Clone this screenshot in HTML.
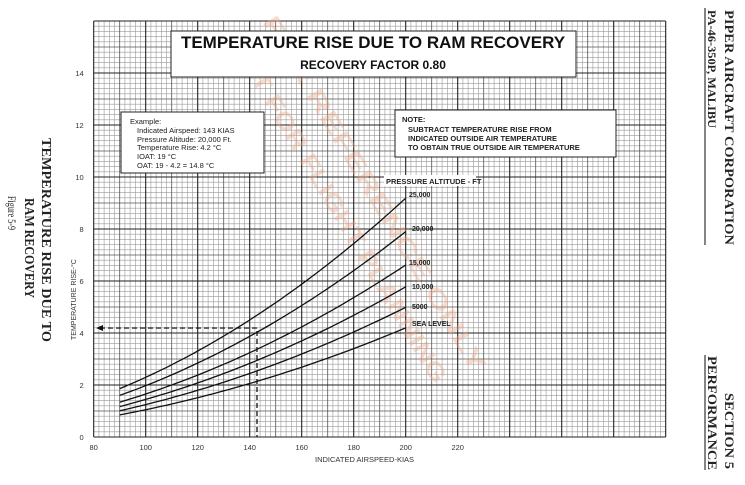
<!DOCTYPE html>
<html><head><meta charset="utf-8"><style>
html,body{margin:0;padding:0;background:#fff;width:745px;height:485px;overflow:hidden}
svg{display:block;font-family:"Liberation Sans",sans-serif}
.sr{font-family:"Liberation Serif",serif;font-weight:bold}
</style></head><body>
<svg id="s" width="745" height="485" viewBox="0 0 745 485">
<g id="grid"></g>
<g fill="#eca888" opacity="0.4" font-size="24" font-weight="bold">
<text transform="translate(262,22) rotate(59)" textLength="410" lengthAdjust="spacingAndGlyphs">FOR REFERENCE ONLY</text>
<text transform="translate(228,42) rotate(59)" textLength="400" lengthAdjust="spacingAndGlyphs">NOT FOR FLIGHT PLANNING</text>
</g>
<g id="curves" fill="none" stroke="#111" stroke-width="1.3"></g>
<g stroke="#111" stroke-width="1.3" stroke-dasharray="5,3" fill="none">
<path d="M100,328 H257 V437"/>
</g>
<path d="M96,328 l7,-3 v6z" fill="#111"/>
<g fill="#fff" stroke="#222" stroke-width="1">
<rect x="171" y="31" width="405" height="46"/>
<rect x="121" y="112" width="143" height="61"/>
<rect x="395" y="110" width="221" height="47"/>
<rect x="384" y="175" width="92" height="11" stroke="none"/>
</g>
<text x="373" y="48" font-size="17" font-weight="bold" text-anchor="middle" fill="#111">TEMPERATURE RISE DUE TO RAM RECOVERY</text>
<text x="373" y="69" font-size="12" font-weight="bold" text-anchor="middle" fill="#111">RECOVERY FACTOR 0.80</text>
<g font-size="7.5" fill="#222">
<text x="130" y="124">Example:</text>
<text x="137" y="133">Indicated Airspeed: 143 KIAS</text>
<text x="137" y="142">Pressure Altitude: 20,000 Ft.</text>
<text x="137" y="150">Temperature Rise: 4.2 °C</text>
<text x="137" y="159">IOAT: 19 °C</text>
<text x="137" y="168">OAT: 19 - 4.2 = 14.8 °C</text>
</g>
<g font-size="7.5" fill="#222" font-weight="bold">
<text x="402" y="122">NOTE:</text>
<text x="408" y="132">SUBTRACT TEMPERATURE RISE FROM</text>
<text x="408" y="141">INDICATED OUTSIDE AIR TEMPERATURE</text>
<text x="408" y="150">TO OBTAIN TRUE OUTSIDE AIR TEMPERATURE</text>
<text x="386" y="184">PRESSURE ALTITUDE - FT</text>
</g>
<g font-size="7" fill="#222" font-weight="bold" id="lbl">
<text x="409" y="197">25,000</text>
<text x="412" y="231">20,000</text>
<text x="409" y="265">15,000</text>
<text x="412" y="289">10,000</text>
<text x="412" y="309">5000</text>
<text x="412" y="326">SEA LEVEL</text>
</g>
<g font-size="7.5" fill="#333" id="ticks"></g>
<text x="315" y="462" font-size="7.5" fill="#333">INDICATED AIRSPEED-KIAS</text>
<text transform="translate(76,340) rotate(-90)" font-size="7" fill="#333">TEMPERATURE RISE-°C</text>
<g class="sr" fill="#222">
<text transform="translate(42,138) rotate(90)" font-size="14" textLength="204" lengthAdjust="spacingAndGlyphs">TEMPERATURE RISE DUE TO</text>
<text transform="translate(25,198) rotate(90)" font-size="14" textLength="100" lengthAdjust="spacingAndGlyphs">RAM RECOVERY</text>
<text transform="translate(8,196) rotate(90)" font-size="12" font-weight="normal" textLength="34" lengthAdjust="spacingAndGlyphs">Figure 5-9</text>
<text transform="translate(725,10) rotate(90)" font-size="13" textLength="235" lengthAdjust="spacingAndGlyphs">PIPER AIRCRAFT CORPORATION</text>
<text transform="translate(708,10) rotate(90)" font-size="12" textLength="118" lengthAdjust="spacingAndGlyphs">PA-46-350P, MALIBU</text>
<text transform="translate(725,393) rotate(90)" font-size="13" textLength="76" lengthAdjust="spacingAndGlyphs">SECTION 5</text>
<text transform="translate(708,356) rotate(90)" font-size="13" textLength="114" lengthAdjust="spacingAndGlyphs">PERFORMANCE</text>
</g>
<line x1="705" y1="8" x2="705" y2="245" stroke="#333" stroke-width="1.2"/>
<line x1="705" y1="355" x2="705" y2="470" stroke="#333" stroke-width="1.2"/>
</svg>
<script>
var X0=93.7,Y0=437,px=2.6,py=26,ns="http://www.w3.org/2000/svg";
function X(v){return X0+(v-80)*px}function Y(t){return Y0-t*py}
var g=document.getElementById('grid'),d1="",d2="",d3="";
var L=X0,R=X(300),T=Y(16);
for(var i=0;i<=110;i++){var x=L+i*5.2;var s=" M"+x.toFixed(1)+","+T+" V"+Y0;if(i%10==0)d3+=s;else if(i%5==0)d2+=s;else d1+=s;}
for(var j=0;j<=80;j++){var y=Y0-j*5.2;var s=" M"+L+","+y.toFixed(1)+" H"+R.toFixed(1);if(j%10==0)d3+=s;else if(j%5==0)d2+=s;else d1+=s;}
function p(d,c,w){var e=document.createElementNS(ns,'path');e.setAttribute('d',d);e.setAttribute('stroke',c);e.setAttribute('stroke-width',w);e.setAttribute('fill','none');g.appendChild(e);}
p(d1,'#9a9a9a',0.6);p(d2,'#555',0.8);p(d3,'#222',1.1);
var ks=[0.85,1.01,1.17,1.34,1.6,1.86],c=document.getElementById('curves');
ks.forEach(function(k){var d="";for(var v=90;v<=200;v+=2){d+=(v==90?"M":"L")+X(v).toFixed(1)+","+Y(k*(v/90)*(v/90)).toFixed(1);}
var e=document.createElementNS(ns,'path');e.setAttribute('d',d);c.appendChild(e);});
var t=document.getElementById('ticks');
function tx(x,y,s,a){var e=document.createElementNS(ns,'text');e.setAttribute('x',x);e.setAttribute('y',y);e.setAttribute('text-anchor',a);e.textContent=s;t.appendChild(e);}
for(var v=80;v<=220;v+=20)tx(X(v),450,v,'middle');
for(var k=0;k<=14;k+=2)tx(L-10,Y(k)+3,k,'end');
</script>
</body></html>
